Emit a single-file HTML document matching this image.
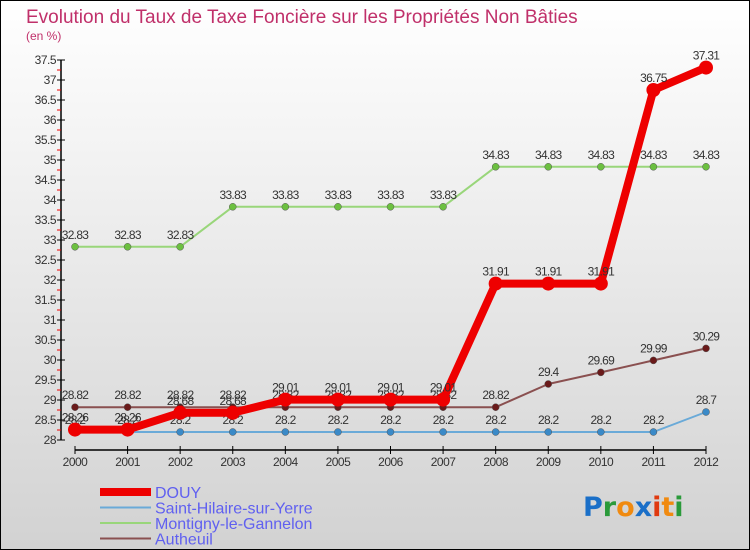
<!DOCTYPE html>
<html><head><meta charset="utf-8">
<style>
html,body{margin:0;padding:0;}
body{width:750px;height:550px;overflow:hidden;font-family:"Liberation Sans",sans-serif;}
svg{display:block;}
</style></head>
<body>
<svg id="chart" width="750" height="550" xmlns="http://www.w3.org/2000/svg">
<defs>
<linearGradient id="bg" x1="0" y1="0" x2="0" y2="1">
<stop offset="0" stop-color="#ffffff"/><stop offset="1" stop-color="#d2d2d2"/>
</linearGradient>
</defs>
<rect x="0.5" y="0.5" width="749" height="549" fill="url(#bg)" stroke="#000" stroke-width="1"/>
<text x="26" y="23" font-size="19" fill="#c0306a">Evolution du Taux de Taxe Foncière sur les Propriétés Non Bâties</text>
<text x="26" y="40" font-size="12" fill="#c0306a">(en %)</text>
<g id="axes"></g>
<g id="series"></g>
<g id="legend"></g>
<text x="583" y="516" font-size="27" font-weight="bold" font-family="'DejaVu Sans',sans-serif"><tspan fill="#1a6fc8">P</tspan><tspan fill="#2a9a3a">r</tspan><tspan fill="#f08a10">o</tspan><tspan fill="#1a6fc8">x</tspan><tspan fill="#e03a10">i</tspan><tspan fill="#f08a10">t</tspan><tspan fill="#2a9a3a">i</tspan></text>
</svg>
<script>
const years=[2000,2001,2002,2003,2004,2005,2006,2007,2008,2009,2010,2011,2012];
const douy=[28.26,28.26,28.68,28.68,29.01,29.01,29.01,29.01,31.91,31.91,31.91,36.75,37.31];
const hilaire=[28.2,28.2,28.2,28.2,28.2,28.2,28.2,28.2,28.2,28.2,28.2,28.2,28.7];
const montigny=[32.83,32.83,32.83,33.83,33.83,33.83,33.83,33.83,34.83,34.83,34.83,34.83,34.83];
const autheuil=[28.82,28.82,28.82,28.82,28.82,28.82,28.82,28.82,28.82,29.4,29.69,29.99,30.29];
const yTicks=[28,28.5,29,29.5,30,30.5,31,31.5,32,32.5,33,33.5,34,34.5,35,35.5,36,36.5,37,37.5];
const NS="http://www.w3.org/2000/svg";
const x=i=>75+i*(631/(years.length-1));
const y=v=>440-(v-28)*40;
function mk(tag,attrs,parent){const e=document.createElementNS(NS,tag);for(const k in attrs)e.setAttribute(k,attrs[k]);parent.appendChild(e);return e;}
const axes=document.getElementById('axes');
let yl=mk('line',{x1:61,y1:y(37.5),x2:61,y2:y(28),stroke:'#000','stroke-width':1.5},axes);


yTicks.forEach(t=>{
  mk('line',{x1:57,y1:y(t),x2:65,y2:y(t),stroke:'#000'},axes);
  if(t<37.5) mk('line',{x1:57,y1:y(t+0.25),x2:61,y2:y(t+0.25),stroke:'#e00'},axes);
  const tx=mk('text',{x:56,y:y(t)+4,'font-size':12,'text-anchor':'end',fill:'#333','letter-spacing':'-0.5'},axes);
  tx.textContent=t;
  
  
});
let xl=mk('line',{x1:x(0),y1:450,x2:x(12),y2:450,stroke:'#000','stroke-width':1.5},axes);


years.forEach((yr,i)=>{
  mk('line',{x1:x(i),y1:446,x2:x(i),y2:454,stroke:'#000'},axes);
  const tx=mk('text',{x:x(i),y:466,'font-size':12,'text-anchor':'middle',fill:'#333','letter-spacing':'-0.5'},axes);
  tx.textContent=yr;
  
  
});
const series=document.getElementById('series');
const defs=[
 {name:'montigny',data:montigny,color:'#99d67a',dot:'#6cc040',w:2,r:3.5},
 {name:'autheuil',data:autheuil,color:'#8a5050',dot:'#6a1a1a',w:2,r:3.5},
 {name:'saint-hilaire',data:hilaire,color:'#6aaad8',dot:'#3a8ac8',w:2,r:3.5},
 {name:'douy',data:douy,color:'#ee0000',dot:'#ee0000',w:8,r:7}
];
defs.forEach(s=>{
  const g=mk('g',{},series);
  
  
  const pts=s.data.map((v,i)=>x(i)+','+y(v)).join(' ');
  const pl=mk('polyline',{points:pts,fill:'none',stroke:s.color,'stroke-width':s.w,'stroke-linejoin':'round'},g);
  
  
  s.data.forEach((v,i)=>{
    const c=mk('circle',{cx:x(i),cy:y(v),r:s.r,fill:s.dot,stroke:s.name==='douy'?'none':'#555','stroke-width':0.5},g);
    
    
    const t=mk('text',{x:x(i),y:y(v)-8,'font-size':12,'text-anchor':'middle',fill:'#333','letter-spacing':'-0.7'},g);
    t.textContent=v;
    
    
  });
});
const legend=document.getElementById('legend');
const lg=[['DOUY','#ee0000',8],['Saint-Hilaire-sur-Yerre','#6aaad8',2],['Montigny-le-Gannelon','#99d67a',2],['Autheuil','#8a5050',2]];
lg.forEach((e,i)=>{
  const yy=492+i*15.5;
  const g=mk('g',{},legend);
  
  
  mk('line',{x1:100,y1:yy,x2:151,y2:yy,stroke:e[1],'stroke-width':e[2]},g);
  const t=mk('text',{x:155,y:yy+6,'font-size':16,fill:'#6060f0'},g);
  t.textContent=e[0];
});
</script>
</body></html>
